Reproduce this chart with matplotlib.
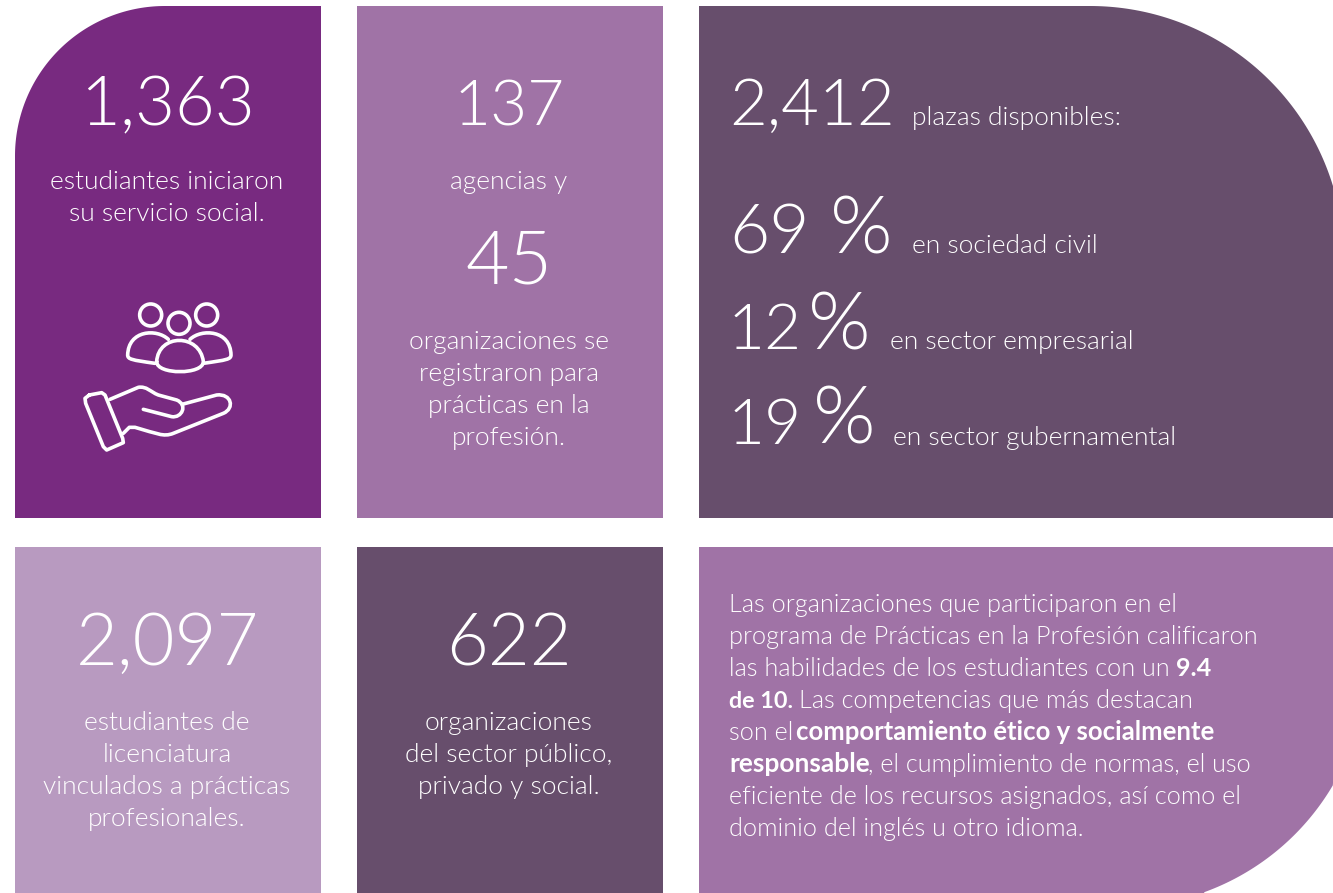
import numpy as np
import matplotlib
matplotlib.use("Agg")
import matplotlib.pyplot as plt
from matplotlib.patches import Polygon, PathPatch, Circle
from matplotlib.path import Path

W, H = 1333, 893
PURPLE = "#782a80"; MID = "#a073a6"; DARK = "#674e6c"; LIGHT = "#b89ac0"
FONT = "Lato"

# content
headline_numbers = ["1,363", "137", "45", "2,097", "622", "2,412"]
share_values = ["69", "12", "19"]
share_labels = ["en sociedad civil", "en sector empresarial", "en sector gubernamental"]

fig = plt.figure(figsize=(W/100, H/100), dpi=100, facecolor="white")
ax = fig.add_axes([0, 0, 1, 1])
ax.set_xlim(0, W); ax.set_ylim(H, 0); ax.axis("off")

def arc(cx, cy, r, a0, a1, n=80):
    t = np.radians(np.linspace(a0, a1, n))
    return np.c_[cx + r*np.cos(t), cy + r*np.sin(t)]

def panel(pts, color):
    ax.add_patch(Polygon(pts, closed=True, fc=color, ec="none"))

# panels
panel(np.vstack([arc(165, 156, 150, 180, 270), [[321, 6], [321, 518], [15, 518]]]), PURPLE)
panel([[357, 6], [663, 6], [663, 518], [357, 518]], MID)
c = arc(1090, 260, 254, -90, -17)
panel(np.vstack([[[699, 6]], c, [[1333, 186], [1333, 518], [699, 518]]]), DARK)
panel([[15, 547], [321, 547], [321, 893], [15, 893]], LIGHT)
panel([[357, 547], [663, 547], [663, 893], [357, 893]], DARK)
c = arc(1120, 660, 247, 30, 70)
panel(np.vstack([[[699, 547], [1333, 547], [1333, 783]], c[(c[:, 0] < 1333) & (c[:, 1] < 893)], [[1204, 893], [699, 893]]]), MID)

def big(x, y, s, ha="center", size=50):
    ax.text(x, y, s, color="white", fontsize=size, family=FONT, fontweight=300, ha=ha, va="baseline")

def body(x, y, s, ha="center", size=19, weight=300, color="white"):
    ax.text(x, y + 1, s, color=color, fontsize=size, family=FONT, fontweight=weight, ha=ha, va="baseline")

big(167, 125, headline_numbers[0], size=49.5)
big(509, 125, headline_numbers[1], size=46)
big(509, 284, headline_numbers[2], size=54)
big(168, 665, headline_numbers[3], size=52)
big(509, 665, headline_numbers[4], size=52)

body(167, 188, "estudiantes iniciaron"); body(167, 220, "su servicio social.")
body(509, 188, "agencias y")
for y, s in zip([348, 380, 412, 444], ["organizaciones se", "registraron para", "prácticas en la", "profesión."]):
    body(509, y, s)
for y, s in zip([729, 761, 793, 825], ["estudiantes de", "licenciatura", "vinculados a prácticas", "profesionales."]):
    body(167, y, s)
for y, s in zip([729, 761, 793], ["organizaciones", "del sector público,", "privado y social."]):
    body(509, y, s)

big(729, 125, headline_numbers[5], ha="left", size=47)
body(912, 124, "plazas disponibles:", ha="left")
for yb, yl, xp, xl, sz, x0, s, l in zip([253, 349, 444], [252, 348, 444], [830, 808, 813], [912, 890, 893],
                                        [50, 46, 46], [729, 728, 728], share_values, share_labels):
    big(x0, yb, s, ha="left", size=sz)
    big(xp, yb, "%", ha="left", size=58)
    body(xl, yl, l, ha="left")

# paragraph: (x, baseline, text, bold, size)
para = [
    (729, 611, "Las organizaciones que participaron en el", False, 18.2),
    (729, 643, "programa de Prácticas en la Profesión calificaron", False, 18.2),
    (729, 675, "las habilidades de los estudiantes con un", False, 18.2),
    (1176, 675, "9.4", True, 18.2),
    (729, 707, "de 10.", True, 16.8),
    (799, 707, "Las competencias que más destacan", False, 18.2),
    (729, 739, "son el", False, 18.2),
    (796, 739, "comportamiento ético y socialmente", True, 18.5),
    (729, 771, "responsable", True, 19),
    (868, 771, ", el cumplimiento de normas, el uso", False, 18.2),
    (729, 803, "eficiente de los recursos asignados, así como el", False, 18.2),
    (729, 835, "dominio del inglés u otro idioma.", False, 18.2),
]
for x, y, s, b, sz in para:
    body(x, y, s, ha="left", size=sz, weight="bold" if b else 300)

# icon (drawn in crop coordinates of the icon box)
def ix(p):
    p = np.asarray(p, float)
    return np.c_[60 + p[:, 0]/3, 280 + p[:, 1]/3]

def stroke(verts, codes=None):
    v = ix(verts)
    pth = Path(v, codes) if codes else Path(v)
    ax.add_patch(PathPatch(pth, fc="none", ec="white", lw=2.6, capstyle="round", joinstyle="round"))

for cx, cy in [(272, 105), (357, 130), (440, 105)]:
    x0 = ix([[cx, cy]])[0]
    ax.add_patch(Circle(x0, 11, fc="none", ec="white", lw=2.6))
M, L, C = Path.MOVETO, Path.LINETO, Path.CURVE4
stroke([(325, 178), (290, 145), (205, 150), (203, 225), (203, 238), (215, 240), (285, 250)], [M, C, C, C, C, C, C])
stroke([(390, 178), (425, 145), (512, 150), (513, 225), (513, 238), (500, 240), (430, 250)], [M, C, C, C, C, C, C])
stroke([(290, 245), (295, 160), (420, 160), (430, 245), (430, 285), (290, 285), (290, 245)], [M, C, C, C, C, C, C])
stroke([(88, 345), (125, 338), (135, 345), (188, 475), (190, 488), (140, 510), (130, 500), (77, 370), (75, 355), (88, 345)],
       [M, L, L, L, L, L, L, L, L, L])
stroke([(150, 358), (235, 322), (260, 318), (270, 335), (295, 345), (350, 360), (385, 375), (365, 415), (335, 410), (250, 388)],
       [M, L, C, C, C, L, C, C, C, L])
stroke([(370, 372), (470, 345), (515, 340), (525, 385), (490, 400), (340, 460), (310, 472), (290, 460), (225, 442), (208, 442), (190, 460)],
       [M, L, C, C, C, L, C, C, L, L, L])

fig.savefig("out.png", dpi=100)
